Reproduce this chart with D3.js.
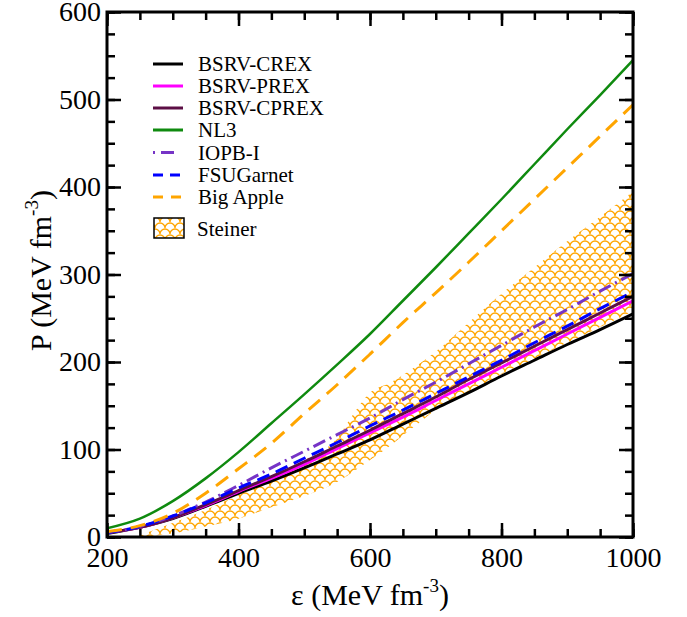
<!DOCTYPE html>
<html><head><meta charset="utf-8">
<script src="https://cdn.jsdelivr.net/npm/d3@7"></script>
<style>body{margin:0;background:#fff}svg{display:block}text{font-family:"Liberation Serif","Times New Roman",Times,serif;fill:#000}</style>
</head><body><svg id="c" width="687" height="617" font-family="Liberation Serif, Times New Roman, serif"></svg>
<script>
// ---- data ----
const eps = [200,250,300,350,400,450,500,550,600,650,700,750,800,850,900,950,1000];
const crex  = [4,11,21,35,50,64,79,95,111,129,147,165,184,202,220,237,255];
const prex  = [5,11,22,36,52,67,83,101,119,137,156,175,194,213,232,251,270];
const cprex = [5,11,22,37,53,69,86,104,122,141,160,180,199,218,237,256,275];
const nl3   = [10,21,41,67,97,130,163,197,232,270,308,347,386,426,466,505,545];
const iopb  = [5,12,24,40,59,79,98,117,136,157,177,198,219,240,260,281,301];
const fsug  = [5,12,24,39,56,72,90,108,127,145,164,183,202,222,241,261,280];
const bigap = [6,13,27,50,78,107,141,174,209,245,279,314,350,386,422,458,494];
const bandEps   = [250,300,350,400,450,500,550,575,600,630,660,700,750,800,850,900,950,1000];
const bandUpper = [2,16,31,48,66,88,113,141,165,176,190,212,245,278,308,338,366,395];
const bandLower = [0,4,12,21,34,47,63,75,88,104,122,145,165,186,204,222,240,258];
const xTicks = [200,400,600,800,1000];
const yTicks = [0,100,200,300,400,500,600];
const seriesNames = ["BSRV-CREX","BSRV-PREX","BSRV-CPREX","NL3","IOPB-I","FSUGarnet","Big Apple"];
const seriesVals = [crex,prex,cprex,nl3,iopb,fsug,bigap];
const seriesColors = ["#000000","#ff00ff","#5c0f45","#0f8a0f","#7634c6","#0000ff","#ffa500"];
const seriesDash = [null,null,null,null,"13,5,2,5","13,7","15,9"];
const seriesWidth = [3,3,3,2.5,3,3,3];
const bandName = "Steiner";

// ---- layout ----
const L=107,R=633,T=12,B=537;
const FONT="Liberation Serif, Times New Roman, serif";
const svg=d3.select("#c");
const x=d3.scaleLinear().domain([200,1000]).range([L,R]);
const y=d3.scaleLinear().domain([0,600]).range([B,T]);

const defs=svg.append("defs");
const pat=defs.append("pattern").attr("id","scales").attr("patternUnits","userSpaceOnUse")
  .attr("width",10).attr("height",12);
pat.append("rect").attr("width",10).attr("height",12).attr("fill","#fff");
pat.append("path").attr("d","M0,6 A5,5 0 0 1 10,6 M-5,12 A5,5 0 0 1 5,12 M5,12 A5,5 0 0 1 15,12")
  .attr("fill","none").attr("stroke","#ffa500").attr("stroke-width",1.3);
defs.append("clipPath").attr("id","clip").append("rect").attr("x",L).attr("y",T).attr("width",R-L).attr("height",B-T);

const plot=svg.append("g").attr("clip-path","url(#clip)");
const area=d3.area().x((d,i)=>x(bandEps[i])).y0((d,i)=>y(bandLower[i])).y1((d,i)=>y(bandUpper[i])).curve(d3.curveMonotoneX);
plot.append("path").datum(bandEps).attr("d",area).attr("fill","url(#scales)");

const line=d3.line().x((d,i)=>x(eps[i])).y(d=>y(d)).curve(d3.curveMonotoneX);
seriesVals.forEach((v,k)=>{
  plot.append("path").datum(v).attr("d",line).attr("fill","none")
    .attr("stroke",seriesColors[k]).attr("stroke-width",seriesWidth[k])
    .attr("stroke-dasharray",seriesDash[k]);
});

// ---- axes ----
const xMinor=d3.range(200,1001,50), yMinor=d3.range(0,601,25);
function styleAxis(g){g.attr("font-family",FONT).attr("font-size",28);g.select(".domain").remove();g.selectAll("line").attr("stroke","#000").attr("stroke-width",2.5);g.selectAll("text").attr("font-family",FONT).style("font-size","28px");}
svg.append("g").attr("transform",`translate(0,${B})`).call(d3.axisBottom(x).tickValues(xMinor).tickSize(-8).tickFormat("")).call(styleAxis);
svg.append("g").attr("transform",`translate(0,${B})`).call(d3.axisBottom(x).tickValues(xTicks).tickSize(-14).tickPadding(10).tickFormat(d3.format("d"))).call(styleAxis);
svg.append("g").attr("transform",`translate(0,${T})`).call(d3.axisTop(x).tickValues(xMinor).tickSize(-8).tickFormat("")).call(styleAxis);
svg.append("g").attr("transform",`translate(0,${T})`).call(d3.axisTop(x).tickValues(xTicks).tickSize(-14).tickFormat("")).call(styleAxis);
svg.append("g").attr("transform",`translate(${L},0)`).call(d3.axisLeft(y).tickValues(yMinor).tickSize(-8).tickFormat("")).call(styleAxis);
svg.append("g").attr("transform",`translate(${L},0)`).call(d3.axisLeft(y).tickValues(yTicks).tickSize(-14).tickPadding(6).tickFormat(d3.format("d"))).call(styleAxis);
svg.append("g").attr("transform",`translate(${R},0)`).call(d3.axisRight(y).tickValues(yMinor).tickSize(-8).tickFormat("")).call(styleAxis);
svg.append("g").attr("transform",`translate(${R},0)`).call(d3.axisRight(y).tickValues(yTicks).tickSize(-14).tickFormat("")).call(styleAxis);
svg.append("rect").attr("x",L).attr("y",T).attr("width",R-L).attr("height",B-T).attr("fill","none").attr("stroke","#000").attr("stroke-width",3);

// ---- titles ----
const xt=svg.append("text").attr("x",(L+R)/2).attr("y",605).attr("text-anchor","middle").attr("font-family",FONT).style("font-size","30px");
xt.append("tspan").text("ε (MeV fm");
xt.append("tspan").attr("dy",-13).style("font-size","19px").text("-3");
xt.append("tspan").attr("dy",13).text(")");
const yt=svg.append("text").attr("transform",`translate(51,${(T+B)/2-4}) rotate(-90)`).attr("text-anchor","middle").attr("font-family",FONT).style("font-size","30px");
yt.append("tspan").text("P (MeV fm");
yt.append("tspan").attr("dy",-13).style("font-size","19px").text("-3");
yt.append("tspan").attr("dy",13).text(")");

// ---- legend ----
const rowsY=[64,86,108,130,152.5,175,197];
seriesNames.forEach((n,k)=>{
  svg.append("line").attr("x1",153).attr("x2",183).attr("y1",rowsY[k]).attr("y2",rowsY[k])
    .attr("stroke",seriesColors[k]).attr("stroke-width",3)
    .attr("stroke-dasharray",k==4?"2,6,13,9":(k==5?"10,7":(k==6?"10,8":null)));
  svg.append("text").attr("x",198).attr("y",rowsY[k]+7).attr("font-family",FONT).style("font-size","21px").text(n);
});
svg.append("rect").attr("x",154).attr("y",218).attr("width",30).attr("height",20).attr("fill","url(#scales)").attr("stroke","#000").attr("stroke-width",1.5);
svg.append("text").attr("x",197).attr("y",236).attr("font-family",FONT).style("font-size","21px").text(bandName);
</script></body></html>
